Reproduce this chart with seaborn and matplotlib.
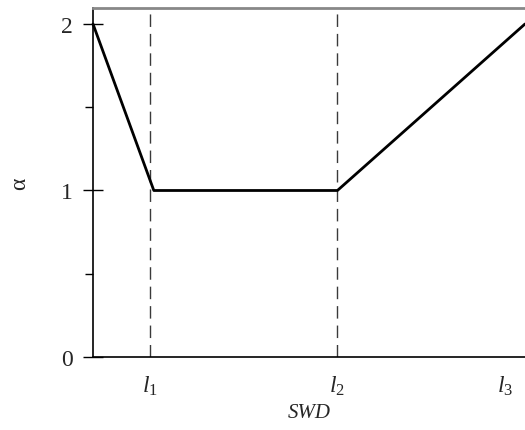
import numpy as np
import pandas as pd
import seaborn as sns
import matplotlib.pyplot as plt
from matplotlib.ticker import FixedLocator

sns.set_theme(style="white")
plt.rcParams['font.family'] = ['Liberation Serif', 'DejaVu Serif']
plt.rcParams['mathtext.fontset'] = 'custom'
plt.rcParams['mathtext.rm'] = 'Liberation Serif'
plt.rcParams['mathtext.it'] = 'Liberation Serif:italic'

# piecewise alpha(SWD)
swd = [0.0, 1.07, 4.3, 7.6]
alpha = [2.0, 1.0, 1.0, 2.0]
thresholds = [1.0, 4.3, 7.25]
threshold_labels = [r'$\mathit{l}_{\mathrm{1}}$', r'$\mathit{l}_{\mathrm{2}}$', r'$\mathit{l}_{\mathrm{3}}$']
yticks = [0, 1, 2]
yminor = [0.5, 1.5]

df = pd.DataFrame({"SWD": swd, "alpha": alpha})

fig = plt.figure(figsize=(5.25, 4.31), dpi=100)
ax = fig.add_axes([93 / 525, 73 / 431, 1 - 93 / 525, (358 - 9) / 431])

for t in thresholds[:2]:
    ax.axvline(t, color='#3a3a3a', lw=1.0, dashes=(9, 5), zorder=1)

sns.lineplot(data=df, x="SWD", y="alpha", ax=ax, color='black', lw=2, zorder=3, clip_on=False)

ax.set_xlim(0, 7.6)
ax.set_ylim(0, 2.096)

ax.set_xticks(thresholds)
ax.set_xticklabels(threshold_labels, fontsize=17)
ax.tick_params(axis='x', length=0, pad=12)

ax.set_yticks(yticks)
ax.set_yticklabels([str(v) for v in yticks], fontsize=17)
ax.yaxis.set_minor_locator(FixedLocator(yminor))
ax.tick_params(axis='y', which='both', left=True)
ax.tick_params(axis='y', which='major', direction='inout', length=15, width=1, color='black', pad=7)
ax.tick_params(axis='y', which='minor', direction='out', length=6, width=1, color='black')

ax.set_xlabel('SWD', fontsize=15, style='italic', labelpad=4)
ax.set_ylabel('α', fontsize=17, labelpad=22, rotation=90)

for s in ['left', 'bottom']:
    ax.spines[s].set_color('black')
    ax.spines[s].set_linewidth(1.2)
ax.spines['top'].set_color('#888888')
ax.spines['top'].set_linewidth(2)
ax.spines['right'].set_visible(False)

fig.savefig('out.png', dpi=100)
